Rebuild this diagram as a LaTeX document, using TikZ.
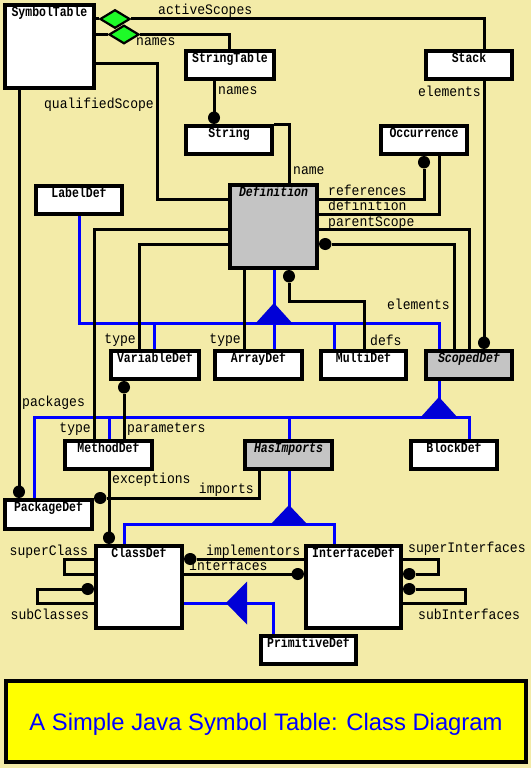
\documentclass[tikz,border=0pt]{standalone}
\usepackage{fontspec}
\setmainfont{Liberation Serif}
\newfontfamily\umlmono[FakeStretch=0.9]{Liberation Mono}
\newfontfamily\umltitle[FakeStretch=0.82]{Liberation Mono}
\newfontfamily\umlsans{Liberation Sans}
\usetikzlibrary{arrows.meta,shapes.geometric}

\definecolor{paper}{RGB}{243,235,168}
\definecolor{abstractgray}{RGB}{196,196,196}
\definecolor{aggrgreen}{RGB}{30,250,40}
\definecolor{genblue}{RGB}{0,0,255}
\definecolor{genfill}{RGB}{0,0,215}
\definecolor{bannerfill}{RGB}{255,255,0}

\tikzset{
  classbox/.style={draw=black, fill=white, line width=3.6pt, inner sep=0pt},
  abstractbox/.style={classbox, fill=abstractgray},
  classname/.style={font=\umltitle\bfseries\fontsize{14}{15}\selectfont, inner sep=0pt, anchor=base},
  abstractname/.style={font=\umltitle\bfseries\itshape\fontsize{14}{15}\selectfont, inner sep=0pt, anchor=base},
  assoc/.style={draw=black, line width=3pt},
  gen/.style={draw=genblue, line width=3pt},
  gentri/.style={fill=genfill},
  dotend/.style={-{Circle[length=12.5pt,width=12pt,line width=0pt]}},
  dotstart/.style={{Circle[length=12.5pt,width=12pt,line width=0pt]}-},
  role/.style={font=\umlmono\fontsize{14.5}{15}\selectfont, inner sep=0pt},
  aggr/.style={diamond, draw=black, line width=2.2pt, fill=aggrgreen, minimum width=30pt, minimum height=18.5pt, inner sep=0pt},
  banner/.style={draw=black, fill=bannerfill, line width=3.6pt, inner sep=0pt},
  bannertext/.style={font=\umlsans\fontsize{23.8}{26}\selectfont, text=genblue, inner sep=0pt, anchor=base},
}

% class box from its outer corners (x1,y1)-(x2,y2), with its name near the top
\newcommand\umlclass[8]{%
  \node[#1, minimum width={#6-#4-3.6}, minimum height={#7-#5-3.6}] (#3) at ({(#4+#6)/2},{(#5+#7)/2}) {};
  \node[#2] (#3-name) at ([yshift=-13.2pt]#3.north) {#8};
}

\begin{document}
\begin{tikzpicture}[x=1pt,y=-1pt]
\useasboundingbox (0,0) rectangle (531,768);
\fill[paper] (0,0) rectangle (531,768);

% ---- classes
\umlclass{classbox}{classname}{sym}{3}{3}{96}{90}{SymbolTable}
\umlclass{classbox}{classname}{strtab}{184}{49}{276}{81}{StringTable}
\umlclass{classbox}{classname}{stack}{424}{49}{514}{81}{Stack}
\umlclass{classbox}{classname}{string}{184}{124}{274}{156}{String}
\umlclass{classbox}{classname}{occ}{379}{124}{469}{156}{Occurrence}
\umlclass{classbox}{classname}{labeldef}{34}{184}{124}{216}{LabelDef}
\umlclass{abstractbox}{abstractname}{defn}{228}{183}{319}{270}{Definition}
\umlclass{classbox}{classname}{var}{109}{349}{201}{381}{VariableDef}
\umlclass{classbox}{classname}{arr}{213}{349}{304}{381}{ArrayDef}
\umlclass{classbox}{classname}{multi}{319}{349}{408}{381}{MultiDef}
\umlclass{abstractbox}{abstractname}{scoped}{424}{349}{514}{381}{ScopedDef}
\umlclass{classbox}{classname}{method}{63}{439}{154}{471}{MethodDef}
\umlclass{abstractbox}{abstractname}{hasimp}{243}{439}{334}{471}{HasImports}
\umlclass{classbox}{classname}{block}{409}{439}{499}{471}{BlockDef}
\umlclass{classbox}{classname}{pkg}{3}{498}{94}{531}{PackageDef}
\umlclass{classbox}{classname}{cls}{94}{544}{184}{630}{ClassDef}
\umlclass{classbox}{classname}{iface}{304}{544}{403}{630}{InterfaceDef}
\umlclass{classbox}{classname}{prim}{259}{634}{358}{666}{PrimitiveDef}

% ---- inheritance (blue) with filled triangles
\coordinate (t1) at (274,323);
\coordinate (t2) at (439,417);
\coordinate (t3) at (289,524);
\coordinate (t4) at (247,603);

\draw[gen] (defn.south -| t1) -- (t1);
\draw[gen] (labeldef.south -| 79,0) |- (t1);
\draw[gen] (var.north -| 154,0) |- (t1);
\draw[gen] (arr.north -| t1) -- (t1);
\draw[gen] (multi.north -| 334,0) |- (t1);
\draw[gen] (scoped.north -| 439,0) |- (t1);

\draw[gen] (scoped.south -| t2) -- (t2);
\draw[gen] (pkg.north -| 34,0) |- (t2);
\draw[gen] (method.north -| 109,0) |- (t2);
\draw[gen] (hasimp.north -| 289,0) |- (t2);
\draw[gen] (block.north -| 469,0) |- (t2);

\draw[gen] (hasimp.south -| t3) -- (t3);
\draw[gen] (cls.north -| 124,0) |- (t3);
\draw[gen] (iface.north -| 334,0) |- (t3);

\draw[gen] (prim.north -| 273,0) |- (t4);
\draw[gen] (t4) -- (cls.east |- t4);

\fill[gentri] (t1) ++(-19,1) -- ++(19,-21) -- ++(19,21) -- cycle;
\fill[gentri] (t2) ++(-19,1) -- ++(19,-21) -- ++(19,21) -- cycle;
\fill[gentri] (t3) ++(-19,1) -- ++(19,-20) -- ++(19,20) -- cycle;
\fill[gentri] (t4) ++(0,-21.5) -- ++(-21,21.5) -- ++(21,21.5) -- cycle;

% ---- associations (black)
\node[aggr] (d1) at (115,19) {};
\draw[assoc] (sym.east |- d1.west) -- (d1.west);
\draw[assoc] (d1.east) -| (stack.north -| 484,0);
\node[aggr] (d2) at (124,34.5) {};
\draw[assoc] (sym.east |- d2.west) -- (d2.west);
\draw[assoc] (d2.east) -| (strtab.north -| 229,0);

\draw[assoc,dotend] (strtab.south -| 214,0) -- (string.north -| 214,0);
\draw[assoc] (sym.east |- 0,64) -| (157,199) -- (defn.west |- 0,199);
\draw[assoc] (string.north east) -| (defn.north -| 289,0);

\draw[assoc,dotend] (defn.east |- 0,199) -| (occ.south -| 424,0);
\draw[assoc] (defn.east |- 0,214) -| (occ.south -| 439,0);
\draw[assoc] (defn.east |- 0,229) -| (scoped.north -| 469,0);
\draw[assoc,dotstart] (defn.east |- 0,244) -| (scoped.north -| 454,0);
\draw[assoc,dotend] (stack.south -| 484,0) -- (scoped.north -| 484,0);

\draw[assoc] (defn.west |- 0,229) -| (method.north -| 94,0);
\draw[assoc] (defn.west |- 0,244) -| (var.north -| 139,0);
\draw[assoc] (defn.south -| 244,0) -- (arr.north -| 244,0);
\draw[assoc,dotstart] (defn.south -| 289,0) |- (364,301) -- (multi.north -| 364,0);

\draw[assoc,dotend] (sym.south -| 19,0) -- (pkg.north -| 19,0);
\draw[assoc,dotstart] (var.south -| 124,0) -- (method.north -| 124,0);
\draw[assoc,dotend] (method.south -| 109,0) -- (cls.north -| 109,0);
\draw[assoc,dotend] (hasimp.south -| 259,0) |- (pkg.north east);

\draw[assoc] (cls.west |- 0,559) -| (64,574) -- (cls.west |- 0,574);
\draw[assoc,dotstart] (cls.west |- 0,589) -| (37,603) -- (cls.west |- 0,603);
\draw[assoc,dotstart] (cls.east |- 0,559) -- (iface.west |- 0,559);
\draw[assoc,dotend] (cls.east |- 0,574) -- (iface.west |- 0,574);
\draw[assoc,dotend] (iface.east |- 0,559) -| (438,574) -- (iface.east |- 0,574);
\draw[assoc,dotstart] (iface.east |- 0,589) -| (465,603) -- (iface.east |- 0,603);

% ---- role names
\node[role, anchor=base west] (r-active) at (158,15) {activeScopes};
\node[role, anchor=base west] (r-names1) at (136,46) {names};
\node[role, anchor=base east] (r-qual) at (154,108) {qualifiedScope};
\node[role, anchor=base west] (r-names2) at (218,94) {names};
\node[role, anchor=base east] (r-elem1) at (481,96.5) {elements};
\node[role, anchor=base west] (r-name) at (293,174.5) {name};
\node[role, anchor=base west] (r-refs) at (328,195) {references};
\node[role, anchor=base west] (r-def) at (328,210.5) {definition};
\node[role, anchor=base west] (r-parent) at (328,226) {parentScope};
\node[role, anchor=base east] (r-elem2) at (450,309) {elements};
\node[role, anchor=base east] (r-type1) at (136,343) {type};
\node[role, anchor=base east] (r-type2) at (241,343) {type};
\node[role, anchor=base west] (r-defs) at (370,345.5) {defs};
\node[role, anchor=base west] (r-pkgs) at (22,406) {packages};
\node[role, anchor=base east] (r-type3) at (91,432) {type};
\node[role, anchor=base west] (r-params) at (127,432) {parameters};
\node[role, anchor=base west] (r-exc) at (112,483) {exceptions};
\node[role, anchor=base east] (r-imports) at (254,493) {imports};
\node[role, anchor=base west] (r-super) at (9.5,555) {superClass};
\node[role, anchor=base west] (r-sub) at (10.5,619) {subClasses};
\node[role, anchor=base west] (r-impl) at (206,555) {implementors};
\node[role, anchor=base west] (r-ifaces) at (189,570.5) {interfaces};
\node[role, anchor=base west] (r-superi) at (408,552) {superInterfaces};
\node[role, anchor=base west] (r-subi) at (418,619) {subInterfaces};

% ---- caption banner
\node[banner, minimum width=520.4pt, minimum height=81.4pt] (banner) at (266,721.5) {};
\node[bannertext] (banner-text) at (266,730) {A Simple Java Symbol Table: Class Diagram};
\end{tikzpicture}
\end{document}
